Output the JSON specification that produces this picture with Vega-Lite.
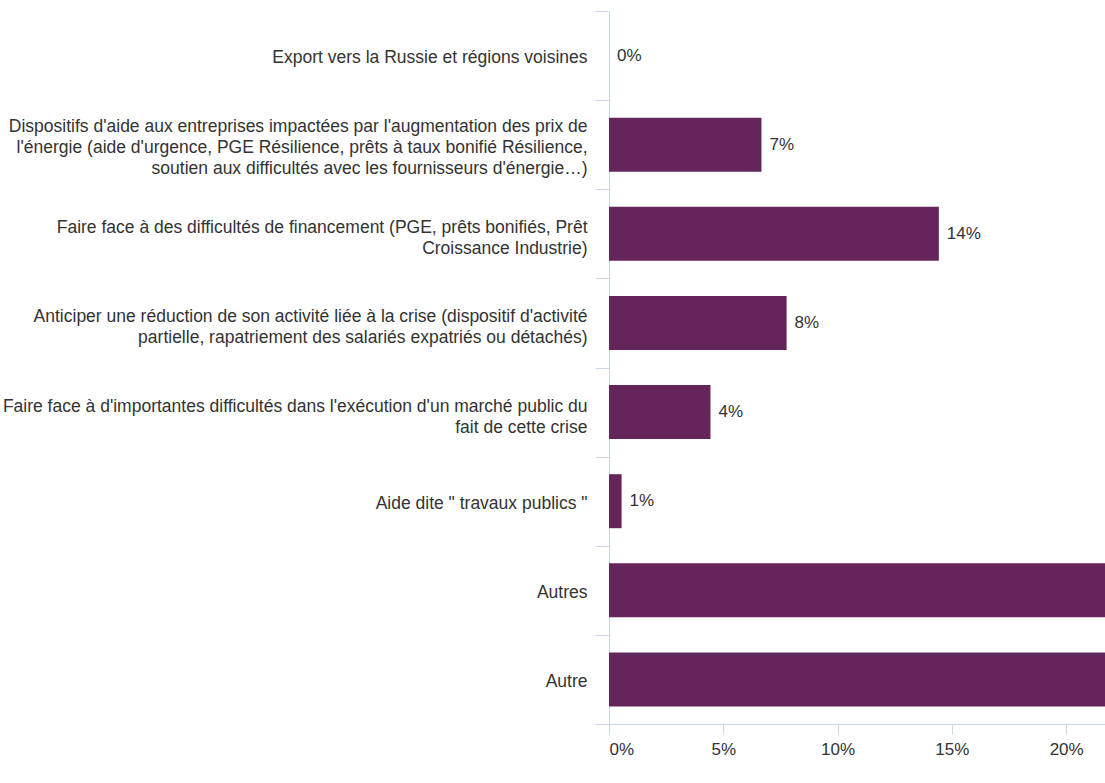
{
  "$schema": "https://vega.github.io/schema/vega-lite/v6.json",
  "width": 496,
  "height": 713,
  "autosize": {"type": "none"},
  "padding": {"left": 609, "top": 11, "right": 0, "bottom": 59},
  "background": "white",
  "config": {"view": {"stroke": null}, "font": "Liberation Sans"},
  "data": {
    "values": [
      {"cat": "Export vers la Russie et régions voisines", "v": 0.0},
      {"cat": "Dispositifs d'aide aux entreprises impactées par l'augmentation des prix de\nl'énergie (aide d'urgence, PGE Résilience, prêts à taux bonifié Résilience,\nsoutien aux difficultés avec les fournisseurs d'énergie…)", "v": 0.0667},
      {"cat": "Faire face à des difficultés de financement (PGE, prêts bonifiés, Prêt\nCroissance Industrie)", "v": 0.1443},
      {"cat": "Anticiper une réduction de son activité liée à la crise (dispositif d'activité\npartielle, rapatriement des salariés expatriés ou détachés)", "v": 0.0777},
      {"cat": "Faire face à d'importantes difficultés dans l'exécution d'un marché public du\nfait de cette crise", "v": 0.0444},
      {"cat": "Aide dite \" travaux publics \"", "v": 0.0055},
      {"cat": "Autres", "v": 0.33},
      {"cat": "Autre", "v": 0.33}
    ]
  },
  "encoding": {
    "y": {
      "field": "cat",
      "type": "nominal",
      "sort": null,
      "scale": {"paddingInner": 0, "paddingOuter": 0},
      "axis": {
        "title": null,
        "domain": true,
        "domainColor": "#ccd6eb",
        "ticks": true,
        "tickColor": "#ccd6eb",
        "tickSize": 14,
        "tickBand": "extent",
        "labelPadding": 8,
        "labelFontSize": 17.5,
        "labelColor": "#333333",
        "labelLimit": 2000,
        "labelLineHeight": 21,
        "labelBaseline": "middle",
        "labelOffset": {
          "condition": [
            {"test": "isString(datum.value) && length(split(datum.value, '\\n')) == 3", "value": -18},
            {"test": "isString(datum.value) && length(split(datum.value, '\\n')) == 2", "value": -6}
          ],
          "value": 2
        },
        "labelExpr": "isString(datum.value) ? split(datum.value, '\\n') : ''"
      }
    },
    "x": {
      "field": "v",
      "type": "quantitative",
      "scale": {"domain": [0, 0.217], "nice": false},
      "axis": {
        "title": null,
        "values": [0, 0.05, 0.1, 0.15, 0.2],
        "format": ".0%",
        "grid": false,
        "domain": true,
        "domainColor": "#ccd6eb",
        "tickColor": "#ccd6eb",
        "tickSize": 10,
        "labelPadding": 7,
        "labelFontSize": 17,
        "labelColor": "#333333"
      }
    }
  },
  "layer": [
    {"mark": {"type": "bar", "color": "#63255a", "clip": true, "height": {"band": 0.606}}},
    {
      "transform": [{"filter": "datum.v < 0.217"}],
      "mark": {"type": "text", "align": "left", "baseline": "middle", "dx": 8, "fontSize": 17, "color": "#333333", "clip": true},
      "encoding": {"text": {"field": "v", "format": ".0%"}}
    }
  ]
}
